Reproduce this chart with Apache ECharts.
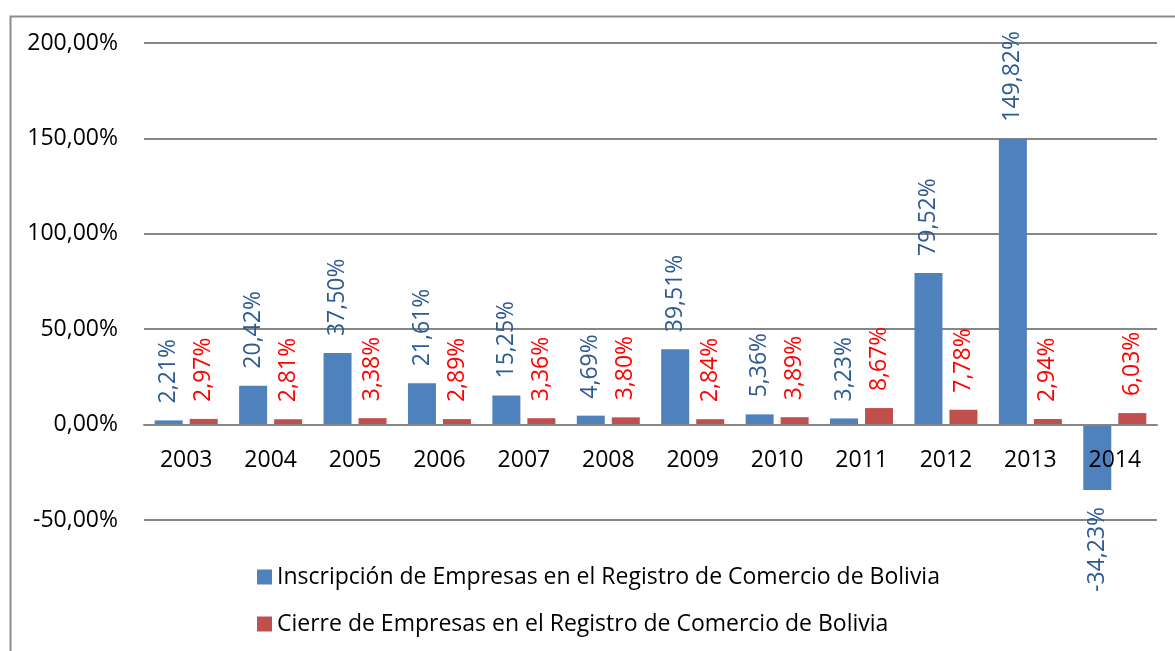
<!DOCTYPE html>
<html>
<head>
<meta charset="utf-8">
<script src="https://cdn.jsdelivr.net/npm/echarts@6/dist/echarts.min.js"></script>
<style>
  html, body { margin: 0; padding: 0; background: #fff; }
  #chart { width: 1175px; height: 651px; }
</style>
</head>
<body>
<div id="chart"></div>
<script>
const years = ['2003', '2004', '2005', '2006', '2007', '2008', '2009', '2010', '2011', '2012', '2013', '2014']
const inscripcion = [2.21, 20.42, 37.50, 21.61, 15.25, 4.69, 39.51, 5.36, 3.23, 79.52, 149.82, -34.23]
const cierre = [2.97, 2.81, 3.38, 2.89, 3.36, 3.80, 2.84, 3.89, 8.67, 7.78, 2.94, 6.03]
const seriesNames = [
  'Inscripción de Empresas en el Registro de Comercio de Bolivia',
  'Cierre de Empresas en el Registro de Comercio de Bolivia'
]

const fontFamily = '"Open Sans", "Liberation Sans", sans-serif'
const fontSize = 23

function pct(v) {
  return v.toFixed(2).replace('.', ',') + '%'
}

// etiquetas verticales encima (o debajo si es negativo)
function withLabels(values) {
  return values.map(v => ({
    value: v,
    label: v < 0
      ? { position: 'bottom', align: 'right' }
      : { position: 'top', align: 'left' }
  }))
}

function barSeries(name, values, barColor, labelColor) {
  return {
    name,
    type: 'bar',
    data: withLabels(values),
    barWidth: 28,
    barGap: '25%',
    itemStyle: { color: barColor },
    label: {
      show: true,
      rotate: 90,
      distance: 17,
      verticalAlign: 'middle',
      color: labelColor,
      fontSize,
      fontFamily,
      formatter: p => pct(p.value)
    }
  }
}

const chart = echarts.init(document.getElementById('chart'))

chart.setOption({
  animation: false,
  textStyle: { fontFamily },
  graphic: [{
    type: 'rect',
    left: 8,
    top: 14,
    shape: { width: 1200, height: 700 },
    style: { fill: 'none', stroke: '#8c8c8c', lineWidth: 2 },
    silent: true
  }],
  grid: {
    left: 144,
    right: 18,
    top: 43,
    bottom: 131
  },
  legend: {
    orient: 'vertical',
    left: 252,
    top: 557,
    icon: 'rect',
    itemWidth: 15,
    itemHeight: 15,
    itemGap: 17,
    selectedMode: false,
    textStyle: { fontSize, color: '#000', lineHeight: 30, fontFamily },
    data: seriesNames
  },
  xAxis: {
    type: 'category',
    data: years,
    z: 5,
    // eje de categorías sobre la línea del 0 (0 está 95 px por encima de -50)
    offset: -95,
    axisLine: { onZero: false, lineStyle: { color: '#868686', width: 2 } },
    axisTick: { show: false },
    axisLabel: { color: '#000', fontSize, margin: 24, fontFamily }
  },
  yAxis: {
    type: 'value',
    min: -50,
    max: 200,
    interval: 50,
    axisLine: { show: false },
    axisTick: { show: false },
    splitLine: { lineStyle: { color: '#868686', width: 2 } },
    axisLabel: {
      color: '#000',
      fontSize,
      margin: 26,
      fontFamily,
      formatter: v => pct(v)
    }
  },
  series: [
    barSeries(seriesNames[0], inscripcion, '#4F81BD', '#2C5A93'),
    barSeries(seriesNames[1], cierre, '#C0504D', '#FF0000')
  ]
})
</script>
</body>
</html>
